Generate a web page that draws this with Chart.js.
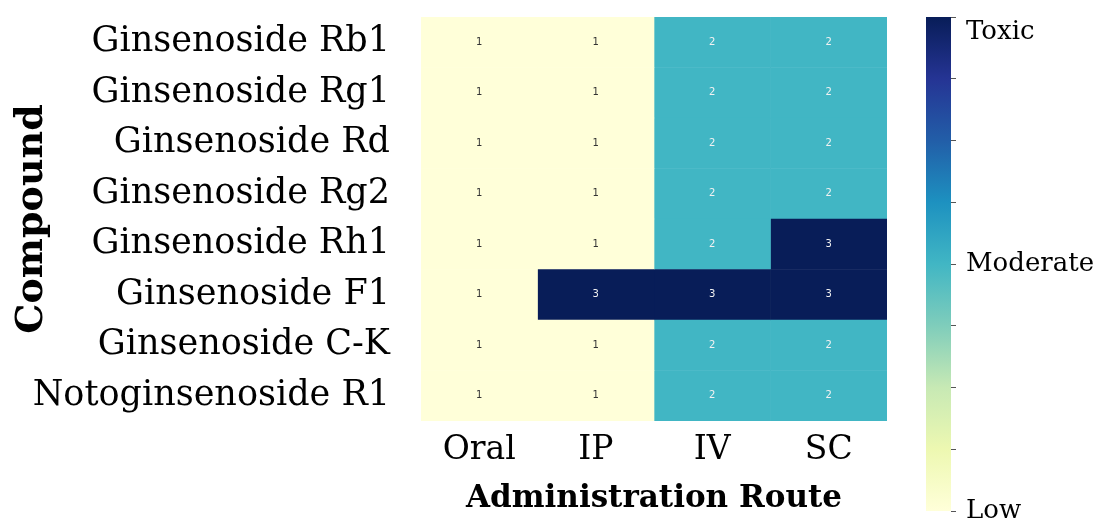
<!DOCTYPE html>
<html>
<head>
<meta charset="utf-8">
<script src="https://cdn.jsdelivr.net/npm/chart.js@4"></script>
<style>
	html, body { margin: 0; padding: 0; background: #fff; }
	#wrap { position: relative; width: 1103px; height: 530px; }
	#heat-box { position: absolute; left: 0; top: 0; width: 900px; height: 530px; }
	#bar-box { position: absolute; left: 900px; top: 0; width: 203px; height: 530px; }
</style>
</head>
<body>
<div id="wrap">
	<div id="heat-box"><canvas id="heat"></canvas></div>
	<div id="bar-box"><canvas id="cbar"></canvas></div>
</div>
<script>
const compounds = [
	'Ginsenoside Rb1',
	'Ginsenoside Rg1',
	'Ginsenoside Rd',
	'Ginsenoside Rg2',
	'Ginsenoside Rh1',
	'Ginsenoside F1',
	'Ginsenoside C-K',
	'Notoginsenoside R1',
];
const routes = ['Oral', 'IP', 'IV', 'SC'];
// toxicity score per route, one entry per compound
const oral = [1, 1, 1, 1, 1, 1, 1, 1];
const ip = [1, 1, 1, 1, 1, 3, 1, 1];
const iv = [2, 2, 2, 2, 2, 3, 2, 2];
const sc = [2, 2, 2, 2, 3, 3, 2, 2];
const scoreColors = { 1: '#ffffd9', 2: '#41b6c4', 3: '#081d58' };
const barMin = 1;
const barMax = 3;
const barStep = 0.25;
const barLabels = { 1: 'Low', 2: 'Moderate', 3: 'Toxic' };
// YlGnBu, low -> high
const ylgnbu = ['#ffffd9', '#edf8b1', '#c7e9b4', '#7fcdbb', '#41b6c4', '#1d91c0', '#225ea8', '#253494', '#081d58'];

const serif = '"DejaVu Serif", serif';
const columns = [oral, ip, iv, sc];

const cellText = {
	id: 'cellText',
	afterDatasetsDraw(chart) {
		const c = chart.ctx;
		c.save();
		c.font = '10px "DejaVu Sans", sans-serif';
		c.textAlign = 'center';
		c.textBaseline = 'middle';
		chart.data.datasets.forEach((ds, i) => {
			chart.getDatasetMeta(i).data.forEach((el, j) => {
				const v = ds.scores[j];
				const p = el.getCenterPoint();
				c.fillStyle = v === 1 ? '#333333' : '#f2f2f2';
				c.fillText(String(v), p.x, p.y);
			});
		});
		c.restore();
	},
};

new Chart(document.getElementById('heat'), {
	type: 'bar',
	data: {
		labels: compounds,
		datasets: columns.map((col, c) => ({
			label: routes[c],
			scores: col,
			data: col.map(() => [c - 0.5, c + 0.5]),
			backgroundColor: col.map((v) => scoreColors[v]),
			borderWidth: 0,
			barPercentage: 1,
			categoryPercentage: 1,
			grouped: false,
		})),
	},
	options: {
		indexAxis: 'y',
		responsive: true,
		maintainAspectRatio: false,
		animation: false,
		layout: { padding: { top: 17, right: 13, left: 0, bottom: 0 } },
		plugins: { legend: { display: false }, tooltip: { enabled: false } },
		scales: {
			x: {
				type: 'linear',
				min: -0.5,
				max: 3.5,
				grid: { display: false },
				border: { display: false },
				afterBuildTicks: (s) => {
					s.ticks = routes.map((r, i) => ({ value: i }));
				},
				afterFit: (s) => {
					s.height = 109;
					s.paddingLeft = 0;
					s.paddingRight = 0;
				},
				ticks: {
					autoSkip: false,
					maxRotation: 0,
					padding: 2,
					color: '#000',
					font: { family: serif, size: 33 },
					callback: (v) => routes[v],
				},
				title: {
					display: true,
					text: 'Administration Route',
					color: '#000',
					padding: { top: 0, bottom: 12 },
					font: { family: serif, size: 31, weight: 'bold' },
				},
			},
			y: {
				grid: { display: false },
				border: { display: false },
				afterFit: (s) => {
					s.width = 421;
					s.paddingTop = 0;
					s.paddingBottom = 0;
				},
				ticks: {
					padding: 23,
					color: '#000',
					font: { family: serif, size: 35 },
				},
				title: {
					display: true,
					text: 'Compound',
					color: '#000',
					padding: { top: 9, bottom: 0 },
					font: { family: serif, size: 38, weight: 'bold' },
				},
			},
		},
	},
	plugins: [cellText],
});

new Chart(document.getElementById('cbar'), {
	type: 'bar',
	data: {
		labels: [''],
		datasets: [
			{
				data: [[barMin, barMax]],
				borderWidth: 0,
				barPercentage: 1,
				categoryPercentage: 1,
				backgroundColor: (ctx) => {
					const area = ctx.chart.chartArea;
					if (!area) return ylgnbu[4];
					const g = ctx.chart.ctx.createLinearGradient(0, area.bottom, 0, area.top);
					ylgnbu.forEach((col, i) => g.addColorStop(i / (ylgnbu.length - 1), col));
					return g;
				},
			},
		],
	},
	options: {
		responsive: true,
		maintainAspectRatio: false,
		animation: false,
		layout: { padding: { top: 17, left: 26, right: 0, bottom: 19 } },
		plugins: { legend: { display: false }, tooltip: { enabled: false } },
		scales: {
			x: { display: false },
			y: {
				position: 'right',
				min: barMin,
				max: barMax,
				border: { display: false },
				grid: { drawOnChartArea: false, drawTicks: true, tickLength: 5, color: '#555', lineWidth: 1 },
				afterFit: (s) => {
					s.width = 152;
					s.paddingTop = 0;
					s.paddingBottom = 0;
				},
				ticks: {
					stepSize: barStep,
					autoSkip: false,
					padding: 10,
					color: '#000',
					font: { family: serif, size: 26 },
					callback: (v) => {
						if (v === barMax) return ['', barLabels[v]];
						return barLabels[v] || '';
					},
				},
			},
		},
	},
});
</script>
</body>
</html>
